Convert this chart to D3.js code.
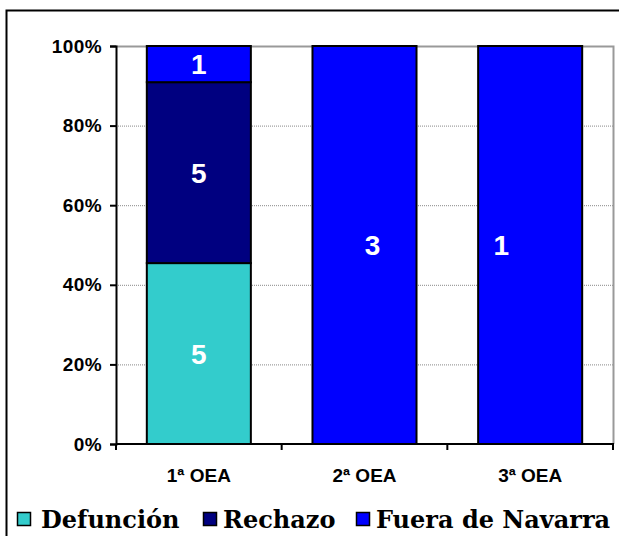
<!DOCTYPE html>
<html>
<head>
<meta charset="utf-8">
<script src="https://cdn.jsdelivr.net/npm/d3@7"></script>
<style>
  body { margin: 0; background: #fff; }
  svg { display: block; }
</style>
</head>
<body>
<svg id="chart" width="619" height="536"></svg>
<script>
const categories = ['1ª OEA', '2ª OEA', '3ª OEA'];
const seriesNames = ['Defunción', 'Rechazo', 'Fuera de Navarra'];
const defuncion = [5, 0, 0];
const rechazo = [5, 0, 0];
const fuera = [1, 3, 1];
const yTicks = [0, 0.2, 0.4, 0.6, 0.8, 1];

const colors = ['#33CCCC', '#000080', '#0000FF'];
const margin = {top: 46, right: 6, bottom: 92, left: 116};
const width = 619, height = 536;
const axisFont = 'Liberation Sans, Arial, sans-serif';
// Excel placed some labels off-centre; horizontal nudge per category
const labelNudge = [0, 8, -29];

const svg = d3.select('#chart');

// outer frame (right and bottom edges cut off in the original)
svg.append('rect')
  .attr('x', 6.5).attr('y', 10.5)
  .attr('width', 640).attr('height', 560)
  .attr('fill', 'none').attr('stroke', '#000').attr('stroke-width', 2);

const table = categories.map((c, i) => {
  const vals = [defuncion[i], rechazo[i], fuera[i]];
  const total = d3.sum(vals);
  const o = {cat: c, idx: i};
  seriesNames.forEach((s, j) => { o[s] = vals[j] / total; o[s + '_n'] = vals[j]; });
  return o;
});
const stacked = d3.stack().keys(seriesNames)(table);

const x = d3.scaleBand()
  .domain(categories)
  .range([margin.left, width - margin.right])
  .paddingInner(0.372).paddingOuter(0.186);

const y = d3.scaleLinear()
  .domain([0, 1])
  .range([height - margin.bottom, margin.top]);

// gridlines
svg.append('g')
  .selectAll('line')
  .data(yTicks.filter(t => t > 0 && t < 1))
  .join('line')
  .attr('x1', margin.left).attr('x2', width - margin.right)
  .attr('y1', d => y(d) + 0.5).attr('y2', d => y(d) + 0.5)
  .attr('stroke', '#888').attr('stroke-width', 1)
  .attr('stroke-dasharray', '1,1');

// plot area border (top and right)
svg.append('path')
  .attr('d', `M${margin.left},${y(1) + 0.5}H${width - margin.right + 0.5}V${y(0)}`)
  .attr('fill', 'none').attr('stroke', '#999').attr('stroke-width', 2);

// bars
const layer = svg.append('g')
  .selectAll('g')
  .data(stacked)
  .join('g')
  .attr('fill', (d, i) => colors[i]);

layer.selectAll('rect')
  .data(d => d.filter(p => p[1] - p[0] > 0))
  .join('rect')
  .attr('x', d => x(d.data.cat))
  .attr('width', x.bandwidth())
  .attr('y', d => y(d[1]))
  .attr('height', d => y(d[0]) - y(d[1]))
  .attr('stroke', '#000').attr('stroke-width', 2);

// value labels
stacked.forEach(s => {
  svg.append('g')
    .selectAll('text')
    .data(s.filter(p => p[1] - p[0] > 0))
    .join('text')
    .attr('x', d => x(d.data.cat) + x.bandwidth() / 2 + (d.data[s.key + '_n'] === d3.sum(seriesNames, k => d.data[k + '_n']) ? labelNudge[d.data.idx] : 0))
    .attr('y', d => (y(d[0]) + y(d[1])) / 2)
    .attr('dy', '0.36em')
    .attr('text-anchor', 'middle')
    .attr('fill', '#fff')
    .attr('font-family', axisFont)
    .attr('font-weight', 'bold')
    .attr('font-size', 28)
    .text(d => d.data[s.key + '_n']);
});

// y axis
svg.append('g')
  .attr('transform', `translate(${margin.left},0)`)
  .call(d3.axisLeft(y).tickValues(yTicks).tickFormat(d3.format('.0%')).tickSize(6).tickPadding(8))
  .call(g => g.select('.domain').attr('stroke', '#000').attr('stroke-width', 2))
  .call(g => g.selectAll('.tick line').attr('stroke', '#000').attr('stroke-width', 2))
  .call(g => g.selectAll('text')
    .attr('font-family', axisFont).attr('letter-spacing', 0.4)
    .attr('font-weight', 'bold').attr('font-size', 19).attr('fill', '#000'));

// x axis
const xAxisG = svg.append('g')
  .attr('transform', `translate(0,${y(0)})`);
xAxisG.append('line')
  .attr('x1', margin.left).attr('x2', width - margin.right + 1)
  .attr('stroke', '#000').attr('stroke-width', 2);
xAxisG.selectAll('line.tk')
  .data(d3.range(categories.length + 1))
  .join('line')
  .attr('class', 'tk')
  .attr('x1', i => margin.left + i * x.step()).attr('x2', i => margin.left + i * x.step())
  .attr('y1', 0).attr('y2', 6)
  .attr('stroke', '#000').attr('stroke-width', 2);
xAxisG.selectAll('text')
  .data(categories)
  .join('text')
  .attr('x', d => x(d) + x.bandwidth() / 2)
  .attr('y', 38)
  .attr('text-anchor', 'middle')
  .attr('font-family', axisFont)
  .attr('font-weight', 'bold').attr('font-size', 19)
  .text(d => d);

// legend
const legendX = [17, 203, 356];
const legend = svg.append('g')
  .selectAll('g')
  .data(seriesNames)
  .join('g')
  .attr('transform', (d, i) => `translate(${legendX[i]},512)`);
legend.append('rect')
  .attr('x', 0.5).attr('y', 0.5).attr('width', 13).attr('height', 13)
  .attr('fill', (d, i) => colors[i])
  .attr('stroke', '#000').attr('stroke-width', 1.5);
legend.append('text')
  .attr('x', (d, i) => i === 0 ? 24 : 20).attr('y', 16)
  .attr('font-family', 'DejaVu Serif, serif')
  .attr('font-weight', 'bold').attr('font-size', 24)
  .attr('fill', '#000')
  .text(d => d);
</script>
</body>
</html>
